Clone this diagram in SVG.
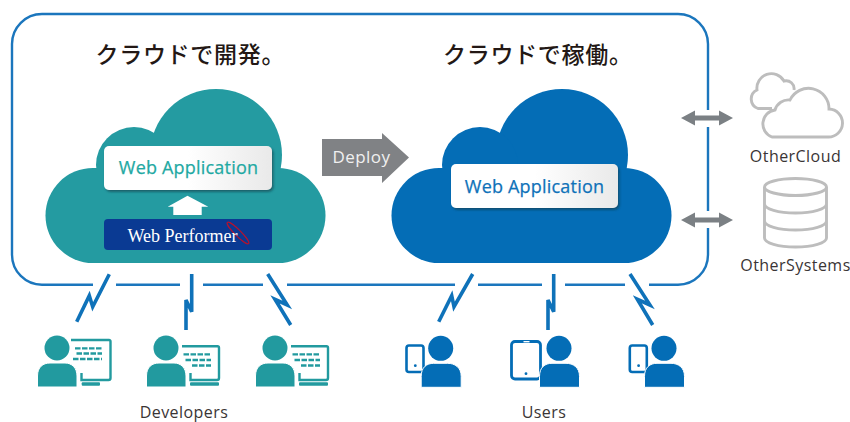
<svg xmlns="http://www.w3.org/2000/svg" width="850" height="422" viewBox="0 0 850 422">
<style>
.title{font-family:"Noto Sans CJK JP",sans-serif;font-size:23px;font-weight:500;fill:#231815;letter-spacing:.7px}
.label{font-family:"Open Sans","Noto Sans",sans-serif;font-size:16px;fill:#3a3535;text-anchor:middle;letter-spacing:.45px}
.app{font-family:"Open Sans","Noto Sans",sans-serif;font-size:18px;font-weight:500;text-anchor:middle;letter-spacing:.2px;stroke-width:.25px}
.frame{fill:none;stroke:#1b76bd;stroke-width:2.4}
.bolt{fill:none;stroke:#0f72b9;stroke-width:3.6;stroke-linejoin:miter}
.outline{fill:none;stroke:#bdbdbd;stroke-width:2.9}
.dbl{fill:#7b8084}
.keys{stroke:#229a9f;stroke-width:2.3;stroke-dasharray:5.500 1.500;fill:none}
.mon{fill:none;stroke:#229a9f;stroke-width:2.400}
.teal{fill:#229a9f}
.blue{fill:#046db6}
</style>
<defs>
<linearGradient id="boxFill" x1="0" y1="0" x2="1" y2="0"><stop offset="0" stop-color="#fff"/><stop offset="0.5" stop-color="#fff"/><stop offset="1" stop-color="#e9e9e9"/></linearGradient>
<filter id="shadow" x="-10%" y="-20%" width="120%" height="150%"><feDropShadow dx="1.500" dy="2" stdDeviation="1.300" flood-color="#0b3b4a" flood-opacity="0.6"/></filter>
<g id="cloudShape">
<circle cx="216" cy="155" r="66"/><circle cx="134" cy="165" r="38"/><circle cx="93" cy="215.500" r="47.500"/><circle cx="278" cy="215.500" r="47.500"/><rect x="93" y="168" width="185" height="95"/>
</g>
<path id="dbl" class="dbl" d="M0 0L14 -7.500V-2.500H38V-7.500L52 0L38 7.500V2.500H14V7.500Z"/>
<g id="devPerson">
<circle cx="57" cy="348" r="14" fill="#fff"/>
<circle cx="57" cy="348" r="12.500" class="teal"/>
<path d="M37.500 387V376C37.500 367 43 363 50 363H65C72 363 77 368 77 376V387Z" class="teal" stroke="#fff" stroke-width="1"/>
</g>
<g id="person">
<circle cx="0" cy="0" r="14" fill="#fff"/>
<circle cx="0" cy="0" r="12.500" class="blue"/>
<path d="M-19.500 39V28C-19.500 19 -14 15 -7 15H7C14 15 20.500 19 20.500 28V39Z" class="blue" stroke="#fff" stroke-width="1"/>
</g>
<g id="phone">
<rect x="406.500" y="345.500" width="17" height="26.500" rx="2.500" fill="#fff" stroke="#046db6" stroke-width="2.600"/>
<circle cx="415.300" cy="365.700" r="1.400" class="blue"/>
</g>
<g id="devSide">
<path class="mon" d="M73 346.200H108.500A1.500 1.500 0 0 1 110 347.700V378A2 2 0 0 1 108 380H81.500V373"/>
<path class="keys" d="M74.500 354.300H102M76.500 360H102M83 365.500H102"/>
<rect x="81" y="382.300" width="29" height="3.400" rx="1" class="teal"/>
</g>
</defs>

<g id="connectors">
<path class="frame" d="M93 284.700H42A30 30 0 0 1 12 254.700V44A30 30 0 0 1 42 14H678A30 30 0 0 1 708 44V110M708 127V211M708 228V254.700A30 30 0 0 1 678 284.700H649M625 284.700H565M542 284.700H478M455 284.700H287M263 284.700H203M180 284.700H116"/>
<path class="bolt" d="M109.300 274.300L92.700 306.700L89.300 295.700L76.700 321.700"/>
<path class="bolt" d="M191.700 274V311.700L186 300V330"/>
<path class="bolt" d="M267.700 274L287.300 305L275 299.300L290.700 325"/>
<path class="bolt" d="M472.700 274L454 306.700L451.700 295.700L438.700 321.700"/>
<path class="bolt" d="M553.700 274V311.700L548 300V330"/>
<path class="bolt" d="M630 274L650 305L637.300 299.300L652.700 325"/>
<use href="#dbl" x="681" y="118"/>
<use href="#dbl" x="681" y="220"/>
</g>

<g id="title-dev"><text class="title" x="95.500" y="63">クラウドで開発。</text></g>
<g id="title-run"><text class="title" x="443" y="63">クラウドで稼働。</text></g>

<g id="cloud-dev">
<use href="#cloudShape" fill="#249ba1"/>
<rect x="104" y="146" width="168" height="44" rx="5" fill="url(#boxFill)" filter="url(#shadow)"/>
<text class="app" x="188.500" y="174" fill="#1fa9a3" stroke="#1fa9a3">Web Application</text>
<path d="M187.500 195.700L208.300 206.700H201.700V215H173.300V206.700H167.700Z" fill="#fff"/>
<rect x="104" y="219" width="168" height="31" rx="4" fill="#0a3a93"/>
<ellipse cx="238" cy="233" rx="15" ry="3" transform="rotate(45 238 233)" fill="none" stroke="#b5122e" stroke-width="1.200"/>
<text x="182.500" y="242" font-family="Liberation Serif,serif" font-size="18" fill="#fff" text-anchor="middle">Web Performer</text>
</g>

<g id="deploy">
<path d="M322 139H382V133L409 157.500L382 183V176H322Z" fill="#808285"/>
<text class="label" x="361.500" y="163" style="fill:#f0f0f0;font-size:17px">Deploy</text>
</g>

<g id="cloud-run">
<use href="#cloudShape" x="346" class="blue"/>
<rect x="451" y="164" width="167" height="44" rx="5" fill="url(#boxFill)" filter="url(#shadow)"/>
<text class="app" x="534.500" y="193" fill="#0f72b9" stroke="#0f72b9">Web Application</text>
</g>

<g id="developer-1">
<path class="mon" d="M71 340H109A1.500 1.500 0 0 1 110.500 341.500V378A2 2 0 0 1 108.500 380H81.500V373"/>
<path class="keys" d="M75 348.300H102M76.500 353.500H102M73 359H102"/>
<rect x="81.700" y="382.300" width="18.300" height="3.400" rx="1" class="teal"/>
<use href="#devPerson"/>
</g>
<g id="developer-2"><use href="#devSide" x="109"/><use href="#devPerson" x="109"/></g>
<g id="developer-3"><use href="#devSide" x="218"/><use href="#devPerson" x="218"/></g>
<g id="developers-label"><text class="label" x="184" y="418">Developers</text></g>

<g id="user-1"><use href="#phone"/><use href="#person" x="440.700" y="348.300"/></g>
<g id="user-2">
<rect x="511.500" y="341.500" width="29" height="37.500" rx="3.500" fill="#fff" stroke="#046db6" stroke-width="2.800"/>
<rect x="523.500" y="341" width="6" height="1.400" fill="#fff"/>
<circle cx="526" cy="373.700" r="1.400" class="blue"/>
<use href="#person" x="559" y="348.300"/>
</g>
<g id="user-3"><use href="#phone" x="223.300"/><use href="#person" x="664" y="348.300"/></g>
<g id="users-label"><text class="label" x="544" y="418">Users</text></g>

<g id="other-cloud">
<path class="outline" d="M772 108.500H758A10 10 0 0 1 757 90A14.500 14.500 0 0 1 784 81A8 8 0 0 1 794 90"/>
<path class="outline" d="M772 137H828A14 14 0 0 0 829 109A20.500 20.500 0 0 0 790 100A14 14 0 0 0 775 110A14 14 0 0 0 772 137Z" style="fill:#fff"/>
<text class="label" x="795.500" y="162">OtherCloud</text>
</g>
<g id="other-systems">
<ellipse class="outline" cx="795.500" cy="187" rx="31" ry="8.500"/>
<path class="outline" d="M764.500 187V238A31 9 0 0 0 826.500 238V187M764.500 204A31 9 0 0 0 826.500 204M764.500 221A31 9 0 0 0 826.500 221"/>
<text class="label" x="795.500" y="271">OtherSystems</text>
</g>
</svg>
